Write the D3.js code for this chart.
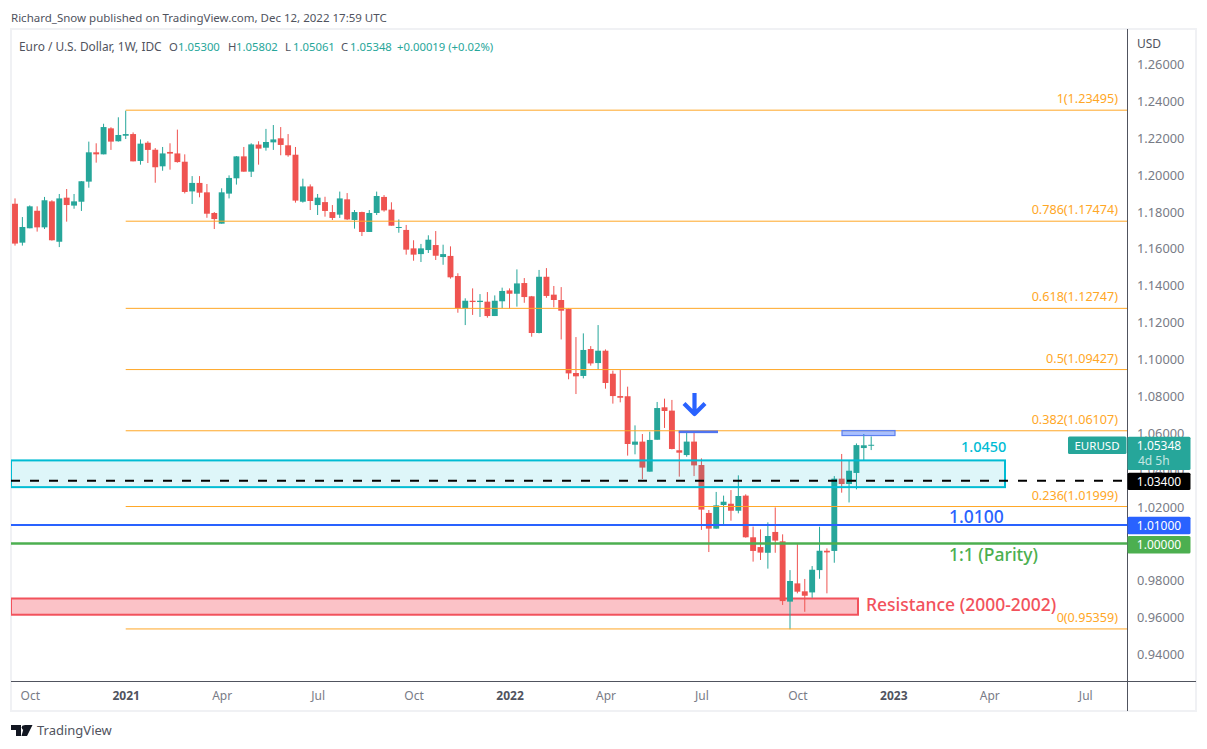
<!DOCTYPE html>
<html>
<head>
<meta charset="utf-8">
<script src="https://cdn.jsdelivr.net/npm/d3@7"></script>
<style>
  html, body { margin: 0; padding: 0; background: #fff; }
  svg { display: block; }
  text { font-family: "Noto Sans", sans-serif; }
</style>
</head>
<body>
<svg id="chart" width="1207" height="749"></svg>
<script>
// weekly EURUSD candles
const opens = [1.1842,1.1631,1.1709,1.1804,1.1714,1.1855,1.1636,1.1875,1.1832,1.1853,
  1.1962,1.2121,1.2110,1.2251,1.2181,1.2211,1.2220,1.2074,1.2173,1.2135,
  1.2045,1.2123,1.2115,1.2070,1.1909,1.1955,1.1904,1.1792,1.1734,1.1897,
  1.1980,1.2099,1.2016,1.2163,1.2146,1.2175,1.2197,1.2159,1.2108,1.1853,
  1.1936,1.1835,1.1851,1.1797,1.1783,1.1866,1.1754,1.1797,1.1689,1.1792,
  1.1879,1.1810,1.1712,1.1700,1.1600,1.1569,1.1591,1.1618,1.1553,1.1559,
  1.1450,1.1275,1.1316,1.1309,1.1311,1.1233,1.1313,1.1372,1.1354,1.1412,
  1.1340,1.1141,1.1446,1.1349,1.1320,1.1271,1.0924,1.0908,1.1054,1.0978,
  1.1045,1.0920,1.0799,1.0798,1.0535,1.0552,1.0389,1.0562,1.0738,1.0720,
  1.0505,1.0479,1.0552,1.0425,1.0165,1.0080,1.0208,1.0215,1.0177,1.0259,
  1.0033,0.9980,0.9949,1.0062,1.0011,0.9684,0.9783,0.9740,0.9734,0.9855,
  0.9960,0.9959,1.0351,1.0322,1.0382,1.0517,1.0530];
const highs = [1.1871,1.1770,1.1833,1.1828,1.1879,1.1861,1.1895,1.1922,1.1895,1.1965,
  1.2179,1.2170,1.2276,1.2257,1.2311,1.2347,1.2229,1.2191,1.2181,1.2144,
  1.2150,1.2170,1.2244,1.2110,1.1992,1.1992,1.1949,1.1797,1.1926,1.1996,
  1.2101,1.2150,1.2170,1.2181,1.2248,1.2269,1.2258,1.2220,1.2150,1.1978,
  1.1947,1.1895,1.1880,1.1835,1.1908,1.1900,1.1808,1.1799,1.1808,1.1908,
  1.1889,1.1850,1.1757,1.1727,1.1644,1.1624,1.1671,1.1694,1.1620,1.1611,
  1.1465,1.1329,1.1383,1.1352,1.1363,1.1345,1.1387,1.1383,1.1486,1.1439,
  1.1342,1.1483,1.1493,1.1396,1.1390,1.1275,1.1119,1.1139,1.1070,1.1184,
  1.1052,1.0937,1.0940,1.0850,1.0640,1.0593,1.0606,1.0767,1.0785,1.0778,
  1.0610,1.0610,1.0606,1.0461,1.0181,1.0279,1.0259,1.0289,1.0369,1.0266,
  1.0091,1.0076,1.0114,1.0195,1.0049,0.9855,0.9996,0.9807,0.9877,1.0090,
  0.9973,1.0365,1.0485,1.0448,1.0542,1.0593,1.05802];
const lows = [1.1615,1.1615,1.1709,1.1691,1.1705,1.1642,1.1607,1.1745,1.1815,1.1803,
  1.1929,1.2065,1.2110,1.2134,1.2179,1.2193,1.2072,1.2054,1.2063,1.1956,
  1.2021,1.2027,1.2065,1.1898,1.1841,1.1877,1.1766,1.1705,1.1734,1.1871,
  1.1946,1.2016,1.1987,1.2054,1.2130,1.2134,1.2105,1.2097,1.1848,1.1848,
  1.1808,1.1781,1.1772,1.1754,1.1765,1.1754,1.1707,1.1667,1.1689,1.1781,
  1.1799,1.1723,1.1685,1.1566,1.1533,1.1526,1.1575,1.1537,1.1511,1.1436,
  1.1251,1.1184,1.1239,1.1228,1.1224,1.1233,1.1275,1.1273,1.1284,1.1305,
  1.1121,1.1139,1.1332,1.1280,1.1106,1.0890,1.0810,1.0895,1.0964,1.0944,
  1.0839,1.0758,1.0765,1.0476,1.0483,1.0349,1.0389,1.0562,1.0626,1.0510,
  1.0362,1.0470,1.0365,1.0073,0.9953,1.0080,1.0098,1.0123,1.0163,1.0031,
  0.9901,0.9910,0.9863,0.9949,0.9666,0.9534,0.9729,0.9629,0.9705,0.9808,
  0.9729,0.9895,1.0275,1.0222,1.0293,1.0448,1.05061];
const closes = [1.1626,1.1716,1.1828,1.1714,1.1861,1.1644,1.1871,1.1835,1.1855,1.1964,
  1.2121,1.2110,1.2258,1.2179,1.2215,1.2220,1.2072,1.2168,1.2134,1.2040,
  1.2115,1.2114,1.2068,1.1906,1.1955,1.1902,1.1788,1.1759,1.1904,1.1982,
  1.2099,1.2016,1.2164,1.2141,1.2177,1.2191,1.2161,1.2105,1.1859,1.1936,
  1.1857,1.1875,1.1803,1.1765,1.1871,1.1757,1.1797,1.1689,1.1792,1.1884,
  1.1806,1.1723,1.1716,1.1593,1.1566,1.1600,1.1647,1.1560,1.1569,1.1443,
  1.1275,1.1316,1.1309,1.1316,1.1233,1.1316,1.1369,1.1354,1.1410,1.1336,
  1.1141,1.1446,1.1342,1.1320,1.1262,1.0922,1.0906,1.1049,1.0976,1.1045,
  1.0870,1.0799,1.0790,1.0539,1.0552,1.0411,1.0561,1.0734,1.0718,1.0512,
  1.0492,1.0552,1.0423,1.0183,1.0080,1.0206,1.0226,1.0177,1.0257,1.0033,
  0.9959,0.9950,1.0040,1.0015,0.9687,0.9796,0.9738,0.9716,0.9857,0.9960,
  0.9951,1.0351,1.0322,1.0394,1.0533,1.0532,1.05348];

// 1.00 is left out, the parity tag sits on that spot
const priceTicks = [1.26,1.24,1.22,1.20,1.18,1.16,1.14,1.12,1.10,1.08,1.06,1.04,1.02,0.98,0.96,0.94];
const weekTicks = [2,15,28,41,54,67,80,93,106,119,132,145];
const weekLabels = ['Oct','2021','Apr','Jul','Oct','2022','Apr','Jul','Oct','2023','Apr','Jul'];

const fibLevels = [1,0.786,0.618,0.5,0.382,0.236,0];
const fibPrices = [1.23495,1.17474,1.12747,1.09427,1.06107,1.01999,0.95359];
const fibStartWeek = 15;

const supportBox = [1.0450,1.0305];
const resistanceBox = [0.9701,0.9613];
const dashedLevel = 1.0340;
const blueLevel = 1.0100;
const parityLevel = 1.0000;

const legendParts = [['Euro / U.S. Dollar, 1W, IDC',19,'#50535e',11.9],['O',169,'#50535e',11.3],['1.05300',178,'#26a69a',11.3],
  ['H',228,'#50535e',11.3],['1.05802',236,'#26a69a',11.3],['L',285,'#50535e',11.3],['1.05061',293,'#26a69a',11.3],
  ['C',341,'#50535e',11.3],['1.05348',350,'#26a69a',11.3],['+0.00019 (+0.02%)',397,'#26a69a',11.3]];

const UP = '#26a69a', DOWN = '#ef5350', ORANGE = '#ffa726', CYAN = '#00bcd4',
  BLUE = '#2962ff', GREEN = '#4caf50', AXIS = '#787b86';

const plotLeft = 11, plotRight = 1127, frameRight = 1196, plotTop = 29, axisY = 681, frameBottom = 711;

const candles = opens.map((o, i) => ({ i, o, h: highs[i], l: lows[i], c: closes[i] }));

const x = d3.scaleLinear().domain([0, 116]).range([15, 871.2]);
const y = d3.scaleLinear().domain([1.26, 0.94]).range([64, 654]);
const bodyWidth = 5.9;

const svg = d3.select('#chart');
svg.append('defs').append('clipPath').attr('id', 'plot')
  .append('rect').attr('x', plotLeft).attr('y', plotTop).attr('width', plotRight - plotLeft).attr('height', axisY - plotTop);

// frame
svg.append('rect').attr('x', plotLeft).attr('y', plotTop).attr('width', frameRight - plotLeft).attr('height', frameBottom - plotTop)
  .attr('fill', '#fff').attr('stroke', '#f0f1f4').attr('stroke-width', 2);

const plot = svg.append('g').attr('clip-path', 'url(#plot)');

// resistance zone sits under the candles
plot.append('rect')
  .attr('x', plotLeft).attr('width', 858 - plotLeft)
  .attr('y', y(resistanceBox[0])).attr('height', y(resistanceBox[1]) - y(resistanceBox[0]))
  .attr('fill', '#f23645').attr('fill-opacity', 0.3).attr('stroke', '#f2525c').attr('stroke-width', 2);

// candles
const candle = plot.selectAll('.candle').data(candles).enter().append('g').attr('class', 'candle');
candle.append('line')
  .attr('x1', d => x(d.i)).attr('x2', d => x(d.i))
  .attr('y1', d => y(d.h)).attr('y2', d => y(d.l))
  .attr('stroke', d => d.c >= d.o ? UP : DOWN).attr('stroke-width', 1);
candle.append('rect')
  .attr('x', d => x(d.i) - bodyWidth / 2).attr('width', bodyWidth)
  .attr('y', d => y(Math.max(d.o, d.c)))
  .attr('height', d => Math.max(1, Math.abs(y(d.o) - y(d.c))))
  .attr('fill', d => d.c >= d.o ? UP : DOWN);

// fib retracement
fibPrices.forEach((p, i) => {
  plot.append('line').attr('x1', x(fibStartWeek)).attr('x2', plotRight)
    .attr('y1', y(p)).attr('y2', y(p)).attr('stroke', ORANGE).attr('stroke-width', 1);
  svg.append('text').attr('x', 1118).attr('y', y(p) - 7).attr('text-anchor', 'end')
    .attr('font-size', 12.6).attr('fill', ORANGE)
    .text(`${fibLevels[i]}(${p.toFixed(5)})`);
});

// support zone over the candles
plot.append('rect')
  .attr('x', plotLeft).attr('width', 1005 - plotLeft)
  .attr('y', y(supportBox[0])).attr('height', y(supportBox[1]) - y(supportBox[0]))
  .attr('fill', CYAN).attr('fill-opacity', 0.13).attr('stroke', CYAN).attr('stroke-width', 2);

plot.append('line').attr('x1', plotLeft).attr('x2', plotRight).attr('y1', y(dashedLevel)).attr('y2', y(dashedLevel))
  .attr('stroke', '#000').attr('stroke-width', 2).attr('stroke-dasharray', '9,10');
plot.append('line').attr('x1', plotLeft).attr('x2', plotRight).attr('y1', y(blueLevel)).attr('y2', y(blueLevel))
  .attr('stroke', BLUE).attr('stroke-width', 2);
plot.append('line').attr('x1', plotLeft).attr('x2', plotRight).attr('y1', y(parityLevel)).attr('y2', y(parityLevel))
  .attr('stroke', GREEN).attr('stroke-width', 2.5);

// small blue markers around 1.06
plot.append('rect').attr('x', 678.7).attr('width', 39.3).attr('y', y(1.0612)).attr('height', 2.6)
  .attr('fill', '#4f74f0');
plot.append('rect').attr('x', 842).attr('width', 53).attr('y', y(1.0612)).attr('height', 5)
  .attr('fill', BLUE).attr('fill-opacity', 0.4).attr('stroke', '#5c80f0').attr('stroke-width', 1.2);

// arrow
plot.append('path')
  .attr('d', 'M694.5,393 V414 M684,403.5 L694.5,414 L705,403.5')
  .attr('fill', 'none').attr('stroke', BLUE).attr('stroke-width', 4.2).attr('stroke-linejoin', 'round');

// annotation text
const note = (t, px, py, color, size) => svg.append('text').attr('x', px).attr('y', py)
  .attr('font-size', size).attr('font-weight', 500).attr('fill', color).text(t);
note('1.0450', 961, 452, '#00bcd4', 14.5);
note('1.0100', 949, 523, BLUE, 17.5);
note('1:1 (Parity)', 949, 561, GREEN, 17.5);
note('Resistance (2000-2002)', 866, 611, '#f2525c', 17.5);

// axes
svg.append('line').attr('x1', plotRight + 0.5).attr('x2', plotRight + 0.5).attr('y1', plotTop).attr('y2', frameBottom)
  .attr('stroke', '#50535e');
svg.append('line').attr('x1', plotLeft).attr('x2', frameRight).attr('y1', axisY + 0.5).attr('y2', axisY + 0.5)
  .attr('stroke', '#50535e');

const yAxis = svg.append('g').attr('transform', `translate(${plotRight},0.5)`)
  .call(d3.axisRight(y).tickValues(priceTicks).tickFormat(d3.format('.5f')).tickSize(0).tickPadding(10));
yAxis.select('.domain').remove();
yAxis.selectAll('text').attr('font-size', 12.8).attr('fill', AXIS).style('font-family', '"Noto Sans", sans-serif');

svg.append('text').attr('x', 1137).attr('y', 48).attr('font-size', 12).attr('fill', '#50535e').text('USD');

const xAxis = svg.append('g').attr('transform', `translate(0,${axisY})`)
  .call(d3.axisBottom(x).tickValues(weekTicks).tickFormat((d, i) => weekLabels[i]).tickSize(0).tickPadding(10));
xAxis.select('.domain').remove();
xAxis.selectAll('text')
  .attr('font-size', 12)
  .attr('font-weight', (d, i) => /^\d/.test(weekLabels[i]) ? 700 : 400)
  .attr('fill', (d, i) => /^\d/.test(weekLabels[i]) ? '#50535e' : AXIS)
  .style('font-family', '"Noto Sans", sans-serif');

// price tags
const tag = (t, py, h, color) => {
  svg.append('rect').attr('x', 1127.5).attr('y', py).attr('width', 63).attr('height', h).attr('rx', 1.5).attr('fill', color);
  svg.append('text').attr('x', 1159).attr('y', py + 13).attr('text-anchor', 'middle')
    .attr('font-size', 12).attr('fill', '#fff').text(t);
};
tag('1.05348', 436.7, 33.3, UP);
svg.append('text').attr('x', 1138).attr('y', 465).attr('font-size', 12).attr('fill', '#c4e6e2').text('4d 5h');
tag('1.03400', 472.7, 17.4, '#000');
tag('1.01000', 516.7, 17.6, BLUE);
tag('1.00000', 536, 17.4, GREEN);

svg.append('rect').attr('x', 1068).attr('y', 436.5).attr('width', 58.5).attr('height', 17.5).attr('rx', 1.5).attr('fill', UP);
svg.append('text').attr('x', 1097).attr('y', 449.5).attr('text-anchor', 'middle').attr('font-size', 11.5)
  .attr('fill', '#fff').text('EURUSD');

// header and legend
svg.append('text').attr('x', 11).attr('y', 21.5).attr('font-size', 11.5).attr('fill', '#50535e')
  .text('Richard_Snow published on TradingView.com, Dec 12, 2022 17:59 UTC');
legendParts.forEach(([t, px, color, size]) => {
  svg.append('text').attr('x', px).attr('y', 50.5).attr('font-size', size).attr('fill', color).text(t);
});

// footer logo
svg.append('path').attr('d', 'M11,725 H21 V736 H16 V730 H11 Z M24.5,725 H32.5 L27,736 H21.5 Z').attr('fill', '#131722');
svg.append('circle').attr('cx', 24).attr('cy', 727.6).attr('r', 2.3).attr('fill', '#131722');
svg.append('text').attr('x', 37).attr('y', 735).attr('font-size', 13).attr('fill', '#50535e').text('TradingView');
</script>
</body>
</html>
